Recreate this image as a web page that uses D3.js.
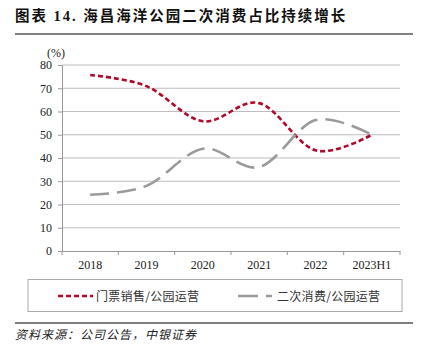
<!DOCTYPE html>
<html><head><meta charset="utf-8">
<script src="https://cdn.jsdelivr.net/npm/d3@7"></script>
<style>body{margin:0;background:#fff}svg{display:block}</style>
</head><body>
<script>
const categories = ["2018","2019","2020","2021","2022","2023H1"];
const ticketShare = [75.7, 70.9, 55.8, 63.6, 43.3, 50.0];
const secondaryShare = [24.2, 28.0, 44.0, 36.1, 56.3, 50.0];
const yTicks = [0,10,20,30,40,50,60,70,80];
const seriesNames = ["门票销售/公园运营","二次消费/公园运营"];
const titleText = "图表 14. 海昌海洋公园二次消费占比持续增长";
const sourceText = "资料来源：公司公告，中银证券";

const W=424,H=351;
const svg=d3.select("body").append("svg").attr("width",W).attr("height",H);
const serif="'Liberation Serif','Times New Roman',serif";
const cjk="'Noto Sans CJK SC','Liberation Serif',serif";

svg.append("text").attr("x",15).attr("y",21).attr("font-family","'Liberation Serif','Noto Sans CJK SC',serif")
  .attr("font-weight","bold").attr("font-size",14.5).attr("letter-spacing",2).attr("fill","#111").text(titleText);
svg.append("line").attr("x1",15).attr("x2",413).attr("y1",34).attr("y2",34).attr("stroke","#555").attr("stroke-width",1.5);

const x=d3.scaleBand().domain(categories).range([62,400]);
const y=d3.scaleLinear().domain([0,80]).range([251,65]);

// grid
svg.append("g").selectAll("line").data(yTicks.filter(d=>d>0)).join("line")
  .attr("x1",62).attr("x2",400).attr("y1",d=>y(d)).attr("y2",d=>y(d))
  .attr("stroke","#bdbdbd").attr("stroke-width",1);

const yAxis=svg.append("g").attr("transform","translate(62,0)")
  .call(d3.axisLeft(y).tickValues(yTicks).tickSize(4).tickPadding(6));
yAxis.select(".domain").attr("stroke","#999");
yAxis.selectAll(".tick line").attr("stroke","#999");
yAxis.selectAll("text").attr("font-family",serif).attr("font-size",12).attr("fill","#222");

const xAxis=svg.append("g").attr("transform","translate(0,251)")
  .call(d3.axisBottom(x).tickSize(0).tickPadding(9).tickSizeOuter(0));
xAxis.select(".domain").attr("stroke","#999");
xAxis.selectAll("text").attr("font-family",serif).attr("font-size",12).attr("fill","#222");
const bounds=categories.map(c=>x(c)).concat([400]);
svg.append("g").selectAll("line").data(bounds).join("line")
  .attr("x1",d=>d).attr("x2",d=>d).attr("y1",251).attr("y2",255).attr("stroke","#999");

svg.append("text").attr("x",56).attr("y",57).attr("text-anchor","middle")
  .attr("font-family",serif).attr("font-size",12).attr("fill","#222").text("(%)");

const line=d3.line().x((d,i)=>x(categories[i])+x.bandwidth()/2).y(d=>y(d)).curve(d3.curveCatmullRom.alpha(0));
svg.append("path").attr("d",line(ticketShare)).attr("fill","none").attr("stroke","#b0092a")
  .attr("stroke-width",2.6).attr("stroke-dasharray","5,3");
svg.append("path").attr("d",line(secondaryShare)).attr("fill","none").attr("stroke","#9a9a9a")
  .attr("stroke-width",2.6).attr("stroke-dasharray","19,8");

// legend
svg.append("rect").attr("x",28).attr("y",279.5).attr("width",374).attr("height",32)
  .attr("fill","none").attr("stroke","#aaa").attr("stroke-width",1);
svg.append("line").attr("x1",58).attr("x2",93).attr("y1",296).attr("y2",296)
  .attr("stroke","#b0092a").attr("stroke-width",2.6).attr("stroke-dasharray","5,3");
svg.append("text").attr("x",96).attr("y",300.5).attr("font-family",cjk).attr("font-size",12).attr("letter-spacing",0.3).attr("fill","#333").text(seriesNames[0]);
svg.append("line").attr("x1",238).attr("x2",272).attr("y1",296).attr("y2",296)
  .attr("stroke","#9a9a9a").attr("stroke-width",2.6).attr("stroke-dasharray","20,8");
svg.append("text").attr("x",277).attr("y",300.5).attr("font-family",cjk).attr("font-size",12).attr("letter-spacing",0.3).attr("fill","#333").text(seriesNames[1]);

svg.append("line").attr("x1",15).attr("x2",413).attr("y1",323).attr("y2",323).attr("stroke","#555").attr("stroke-width",1.5);
svg.append("text").attr("x",15).attr("y",339).attr("font-family",cjk).attr("font-style","italic")
  .attr("font-size",12).attr("letter-spacing",1).attr("fill","#222").text(sourceText);
</script>
</body></html>
